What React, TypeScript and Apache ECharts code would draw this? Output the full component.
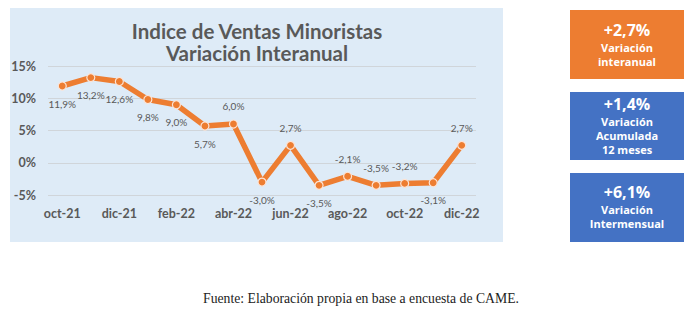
import React, { useEffect, useRef } from "react";
import * as echarts from "echarts";

const categories = [
  "oct-21", "nov-21", "dic-21", "ene-22", "feb-22", "mar-22", "abr-22", "may-22",
  "jun-22", "jul-22", "ago-22", "sep-22", "oct-22", "nov-22", "dic-22",
];
const values = [11.9, 13.2, 12.6, 9.8, 9.0, 5.7, 6.0, -3.0, 2.7, -3.5, -2.1, -3.5, -3.2, -3.1, 2.7];
const labelPlacement = [
  "bottom", "bottom", "bottom", "bottom", "bottom", "bottom", "top", "bottom",
  "top", "bottom", "top", "top", "top", "bottom", "top",
];
const yTicks = [-5, 0, 5, 10, 15];
const titleLines = ["Indice de Ventas Minoristas", "Variación Interanual"];
const boxes = [
  { value: "+2,7%", lines: ["Variación", "interanual"] },
  { value: "+1,4%", lines: ["Variación", "Acumulada", "12 meses"] },
  { value: "+6,1%", lines: ["Variación", "Intermensual"] },
];
const source = "Fuente: Elaboración propia en base a encuesta de CAME.";

const fmt = (v: number) => v.toFixed(1).replace(".", ",") + "%";

export default function App() {
  const ref = useRef<HTMLDivElement>(null);
  useEffect(() => {
    if (!ref.current) return;
    const chart = echarts.init(ref.current, undefined, { renderer: "svg" });
    const gray = "#595959";
    const orange = "#ED7D31";
    const blue = "#4472C4";
    const boxGeom = [
      { y: 10, h: 69, color: orange, lineYs: [30, 47, 61] },
      { y: 92, h: 68, color: blue, lineYs: [104, 121, 135, 149] },
      { y: 173, h: 69, color: blue, lineYs: [192, 209, 223] },
    ];
    const graphics: any[] = [
      {
        type: "rect",
        shape: { x: 10, y: 8, width: 493, height: 234 },
        style: { fill: "#DEEBF7" },
        z: -10,
        silent: true,
      },
      ...titleLines.map((t, i) => ({
        type: "text",
        x: 257,
        y: 31 + i * 22,
        style: {
          text: t,
          font: "bold 20.5px Lato",
          lineHeight: 20,
          fill: gray,
          textAlign: "center",
          textVerticalAlign: "middle",
        },
        z: 10,
      })),
      {
        type: "text",
        x: 361,
        y: 298,
        style: {
          text: source,
          font: "13.7px 'Liberation Serif'",
          fill: "#222222",
          textAlign: "center",
          textVerticalAlign: "middle",
        },
      },
    ];
    boxes.forEach((b, i) => {
      const g = boxGeom[i];
      graphics.push({
        type: "rect",
        shape: { x: 570, y: g.y, width: 114, height: g.h },
        style: { fill: g.color },
      });
      const texts = [b.value, ...b.lines];
      texts.forEach((t, j) => {
        graphics.push({
          type: "text",
          x: 627,
          y: g.lineYs[j],
          style: {
            text: t,
            font: j === 0 ? "bold 16px 'Open Sans'" : "bold 11px 'Open Sans'",
            lineHeight: j === 0 ? 16 : 12,
            fill: "#FFFFFF",
            textAlign: "center",
            textVerticalAlign: "middle",
          },
          z: 10,
        });
      });
    });

    chart.setOption({
      animation: false,
      grid: { left: 48, right: 224, top: 66, bottom: 128, containLabel: false },
      xAxis: {
        type: "category",
        data: categories,
        boundaryGap: true,
        axisLine: { show: false },
        axisTick: { show: false },
        axisLabel: {
          interval: 1,
          margin: 12,
          color: gray,
          fontFamily: "Lato",
          fontWeight: "bold",
          fontSize: 12.5,
        },
      },
      yAxis: {
        type: "value",
        min: yTicks[0],
        max: yTicks[yTicks.length - 1],
        interval: 5,
        axisLine: { show: false },
        axisTick: { show: false },
        splitLine: { lineStyle: { color: "#D0D5DA", width: 1 } },
        axisLabel: {
          formatter: (v: number) => v + "%",
          margin: 12,
          color: gray,
          fontFamily: "Lato",
          fontWeight: "bold",
          fontSize: 12.5,
        },
      },
      graphic: graphics,
      series: [
        {
          type: "line",
          data: values.map((v, i) => ({
            value: v,
            label: { position: labelPlacement[i] },
          })),
          lineStyle: { color: orange, width: 5.5 },
          itemStyle: { color: orange, borderColor: "#FCE4D6", borderWidth: 1.2 },
          symbol: "circle",
          symbolSize: 8,
          label: {
            show: true,
            formatter: (p: any) => fmt(p.value),
            color: gray,
            fontFamily: "Lato",
            fontSize: 10,
            distance: 8,
          },
        },
      ],
    });
    return () => chart.dispose();
  }, []);
  return (
    <div
      ref={ref}
      style={{ position: "fixed", left: 0, top: 0, width: 700, height: 323, background: "#FFFFFF" }}
    />
  );
}
